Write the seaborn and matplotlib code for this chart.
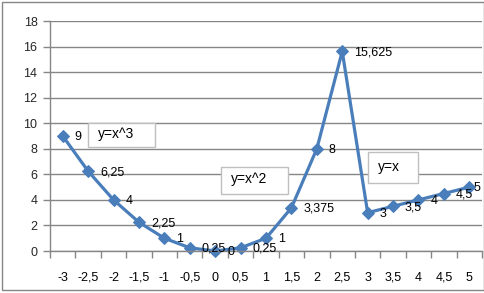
import matplotlib
matplotlib.use("Agg")
import matplotlib.pyplot as plt
import seaborn as sns
import pandas as pd
from matplotlib.patches import Rectangle

categories = ["-3", "-2,5", "-2", "-1,5", "-1", "-0,5", "0", "0,5", "1", "1,5",
              "2", "2,5", "3", "3,5", "4", "4,5", "5"]
values = [9, 6.25, 4, 2.25, 1, 0.25, 0, 0.25, 1, 3.375, 8, 15.625, 3, 3.5, 4, 4.5, 5]
value_labels = ["9", "6,25", "4", "2,25", "1", "0,25", "0", "0,25", "1", "3,375",
                "8", "15,625", "3", "3,5", "4", "4,5", "5"]
box_texts = ["y=x^3", "y=x^2", "y=x"]

sns.set_theme(style="white")
plt.rcParams['font.family'] = ['Liberation Sans', 'DejaVu Sans']

W, H = 485, 293
fig = plt.figure(figsize=(W / 100, H / 100), dpi=100)
fig.patch.set_facecolor("white")

def px(x0, y0, x1, y1):
    return [x0 / W, 1 - y1 / H, (x1 - x0) / W, (y1 - y0) / H]

ax = fig.add_axes(px(50, 21, 482, 251))
df = pd.DataFrame({"pos": range(len(categories)), "val": values})
sns.lineplot(data=df, x="pos", y="val", ax=ax, color="#4A7EBB", linewidth=2.3,
             marker="D", markersize=6.5, markeredgecolor="#4A7EBB")
for ln in ax.lines:
    ln.set_clip_on(False)

ax.set_xlim(-0.5, len(categories) - 0.5)
ax.set_ylim(0, 18)
ax.set_yticks(range(0, 19, 2))
ax.set_yticklabels([str(v) for v in range(0, 19, 2)], fontsize=9)
ax.set_xticks(range(len(categories)))
ax.set_xticklabels(categories, fontsize=9)
ax.set_xticks([i - 0.5 for i in range(len(categories) + 1)], minor=True)
ax.tick_params(axis="x", which="major", length=0, pad=15, colors="black")
ax.tick_params(axis="x", which="minor", length=5, width=1, color="#868686", direction="out", bottom=True)
ax.tick_params(axis="y", which="major", length=5, width=1, color="#868686", direction="out", left=True, pad=4)
ax.set_xlabel("")
ax.set_ylabel("")
ax.grid(axis="y", color="#868686", linewidth=1)
ax.set_axisbelow(True)
for s in ["top", "right"]:
    ax.spines[s].set_visible(False)
for s in ["left", "bottom"]:
    ax.spines[s].set_color("#868686")
    ax.spines[s].set_linewidth(1)

n = len(values)
for i, (v, lab) in enumerate(zip(values, value_labels)):
    dx = 4 if i == n - 1 else 12
    ax.annotate(lab, (i, v), xytext=(dx, -1), textcoords="offset pixels",
                ha="left", va="center", fontsize=9, color="black")

# chart border
fig.patches.append(Rectangle((2 / W, 1 - 290 / H), 482 / W, 288 / H,
                             transform=fig.transFigure, fill=False,
                             edgecolor="#868686", linewidth=1))

boxes = [(88, 123, 155, 147), (221, 167, 288, 194), (368, 152, 418, 183)]
for (x0, y0, x1, y1), t in zip(boxes, box_texts):
    fig.patches.append(Rectangle((x0 / W, 1 - y1 / H), (x1 - x0) / W, (y1 - y0) / H,
                                 transform=fig.transFigure, facecolor="white",
                                 edgecolor="#BFBFBF", linewidth=1, zorder=5))
    fig.text((x0 + 10) / W, 1 - ((y0 + y1) / 2 - 1) / H, t, ha="left", va="center",
             fontsize=10, color="black", zorder=6)

fig.savefig("out.png", dpi=100)
